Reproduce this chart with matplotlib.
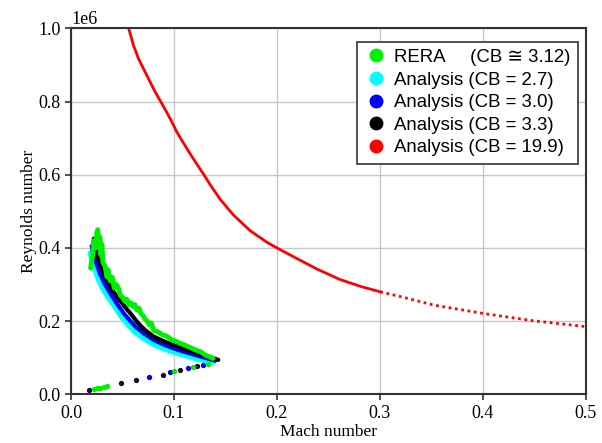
import numpy as np
import matplotlib.pyplot as plt
from matplotlib.lines import Line2D

# Analysis CB = 2.7 (upper branch)
cyan_m = [0.019, 0.022, 0.027, 0.032, 0.038, 0.044, 0.050, 0.056, 0.062, 0.070, 0.080, 0.090, 0.100, 0.110, 0.120, 0.130, 0.138]
cyan_re = [0.385, 0.355, 0.315, 0.285, 0.26, 0.235, 0.21, 0.19, 0.172, 0.155, 0.138, 0.126, 0.116, 0.108, 0.100, 0.094, 0.089]
# Analysis CB = 3.0
blue_m = [0.020, 0.023, 0.028, 0.033, 0.039, 0.045, 0.051, 0.057, 0.063, 0.071, 0.080, 0.090, 0.100, 0.110, 0.120, 0.130, 0.140]
blue_re = [0.405, 0.37, 0.33, 0.30, 0.272, 0.246, 0.222, 0.202, 0.184, 0.166, 0.149, 0.136, 0.125, 0.116, 0.108, 0.100, 0.092]
# Analysis CB = 3.3
black_m = [0.022, 0.025, 0.029, 0.034, 0.040, 0.046, 0.052, 0.058, 0.065, 0.072, 0.080, 0.090, 0.100, 0.110, 0.120, 0.130, 0.143]
black_re = [0.425, 0.385, 0.35, 0.315, 0.285, 0.262, 0.24, 0.22, 0.195, 0.175, 0.158, 0.145, 0.134, 0.124, 0.115, 0.106, 0.094]
# RERA measurement
rera_m = [0.019, 0.021, 0.022, 0.024, 0.025, 0.026, 0.027, 0.028, 0.029, 0.030, 0.031, 0.033, 0.035, 0.036, 0.038,
          0.040, 0.042, 0.044, 0.046, 0.048, 0.050, 0.052, 0.054, 0.056, 0.058, 0.060, 0.062, 0.064, 0.066, 0.068,
          0.070, 0.072, 0.074, 0.076, 0.078, 0.080, 0.083, 0.086, 0.089, 0.092, 0.095, 0.098, 0.101, 0.104, 0.107,
          0.110, 0.114, 0.118, 0.122, 0.126, 0.130, 0.134, 0.138]
rera_re = [0.345, 0.38, 0.42, 0.40, 0.44, 0.45, 0.40, 0.43, 0.38, 0.41, 0.36, 0.35, 0.32, 0.34, 0.31,
           0.32, 0.29, 0.30, 0.29, 0.27, 0.265, 0.255, 0.26, 0.245, 0.25, 0.24, 0.245, 0.23, 0.235, 0.22,
           0.215, 0.205, 0.20, 0.19, 0.195, 0.175, 0.172, 0.168, 0.162, 0.16, 0.155, 0.148, 0.146, 0.142, 0.138,
           0.135, 0.13, 0.125, 0.12, 0.116, 0.108, 0.103, 0.098]
# return branch (sparse points)
ret_black_m = [0.017, 0.049, 0.063, 0.089, 0.106, 0.122]
ret_black_re = [0.011, 0.032, 0.039, 0.053, 0.066, 0.077]
ret_blue_m = [0.076, 0.096, 0.114, 0.128]
ret_blue_re = [0.047, 0.060, 0.072, 0.081]
ret_green_m = [0.022, 0.025, 0.028, 0.032, 0.035, 0.100, 0.118, 0.133]
ret_green_re = [0.014, 0.016, 0.018, 0.021, 0.023, 0.063, 0.074, 0.084]
# Analysis CB = 19.9
red_m = [0.056, 0.0606, 0.0654, 0.0735, 0.0816, 0.0891, 0.0962, 0.1027, 0.1124, 0.1205, 0.1286, 0.1351,
         0.1448, 0.1577, 0.174, 0.190, 0.200, 0.216, 0.239, 0.261, 0.281, 0.3003]
red_re = [1.0, 0.954, 0.918, 0.872, 0.827, 0.790, 0.754, 0.717, 0.672, 0.636, 0.602, 0.573,
          0.533, 0.490, 0.447, 0.416, 0.400, 0.376, 0.342, 0.314, 0.295, 0.280]
red2_m = [0.3003, 0.320, 0.352, 0.4, 0.449, 0.4995]
red2_re = [0.280, 0.267, 0.244, 0.221, 0.201, 0.185]

s = 1e6
fig = plt.figure(figsize=(6.02, 4.43), dpi=100)
ax = fig.add_axes([0.118, 0.110, 0.855, 0.826])

ax.plot(cyan_m, np.array(cyan_re) * s, color='cyan', lw=4.5, solid_capstyle='round')
ax.plot(blue_m, np.array(blue_re) * s, color='blue', lw=3, solid_capstyle='round')
ax.plot(black_m, np.array(black_re) * s, color='black', lw=3, solid_capstyle='round')
ax.plot(rera_m, np.array(rera_re) * s, color='#00ee00', lw=3.5, solid_capstyle='round')
ax.plot(ret_black_m, np.array(ret_black_re) * s, 'o', color='#101030', ms=2.8)
ax.plot(ret_blue_m, np.array(ret_blue_re) * s, 'o', color='blue', ms=2.8)
ax.plot(ret_green_m, np.array(ret_green_re) * s, 'o', color='#00ee00', ms=2.8)
ax.plot(red_m, np.array(red_re) * s, color='red', lw=2)
ax.plot(red2_m, np.array(red2_re) * s, color='red', lw=2, linestyle=(0, (1, 1.3)))

ax.set_xlim(0, 0.5)
ax.set_ylim(0, 1e6)
ax.set_xticks([0, 0.1, 0.2, 0.3, 0.4, 0.5])
ax.set_yticks([0, 0.2e6, 0.4e6, 0.6e6, 0.8e6, 1e6])
ax.grid(True, color='#c8c8c8', lw=1)
ax.set_axisbelow(True)
for sp in ax.spines.values():
    sp.set_color('#333333')
    sp.set_linewidth(1.5)
ax.tick_params(labelsize=13, color='#333333', width=1.2, length=4)
for lab in ax.get_xticklabels() + ax.get_yticklabels():
    lab.set_family('Liberation Serif')
ax.yaxis.get_offset_text().set_family('Liberation Serif')
ax.yaxis.get_offset_text().set_fontsize(13)
ax.set_xlabel("Mach number", family='Liberation Serif', fontsize=12.5, labelpad=2)
ax.set_ylabel("Reynolds number", family='Liberation Serif', fontsize=12.5, labelpad=1)

handles = [Line2D([], [], marker='o', ls='', color=c, ms=9) for c in ['#00ee00', 'cyan', 'blue', 'black', 'red']]
labels = ["RERA     (CB \u2245 3.12)", "Analysis (CB = 2.7)", "Analysis (CB = 3.0)",
          "Analysis (CB = 3.3)", "Analysis (CB = 19.9)"]
leg = ax.legend(handles, labels, loc='upper right', bbox_to_anchor=(0.9855, 0.964),
                prop={'family': ['Liberation Sans', 'DejaVu Sans'], 'size': 13.4},
                fancybox=False, framealpha=1, edgecolor='#333333', labelspacing=0.3,
                handletextpad=0.4, handlelength=1.2, borderpad=0.4, borderaxespad=0)
leg.get_frame().set_linewidth(1.2)

fig.savefig("out.png", dpi=100)
